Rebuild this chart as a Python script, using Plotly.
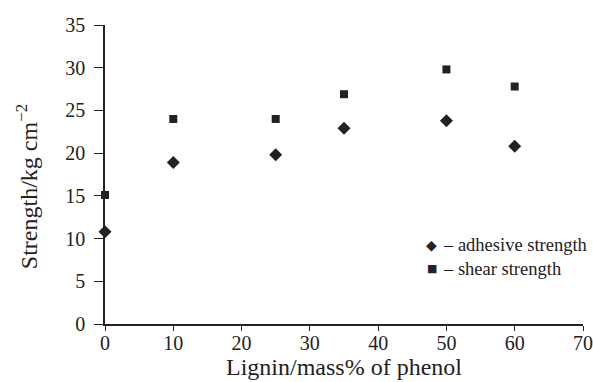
import plotly.graph_objects as go

lignin = [0, 10, 25, 35, 50, 60]
adhesive_strength = [10.8, 18.9, 19.8, 22.9, 23.8, 20.8]
shear_strength = [15.1, 24.0, 24.0, 26.9, 29.8, 27.8]

x_ticks = [0, 10, 20, 30, 40, 50, 60, 70]
y_ticks = [0, 5, 10, 15, 20, 25, 30, 35]

legend_labels = ["– adhesive strength", "– shear strength"]
legend_symbols = ["◆", "■"]

font_family = "Liberation Serif, Times New Roman, serif"
ink = "#222222"

fig = go.Figure()
fig.add_trace(go.Scatter(
    x=lignin, y=adhesive_strength, mode="markers",
    name=legend_labels[0],
    marker=dict(symbol="diamond", size=10, color=ink),
    cliponaxis=False, showlegend=False,
))
fig.add_trace(go.Scatter(
    x=lignin, y=shear_strength, mode="markers",
    name=legend_labels[1],
    marker=dict(symbol="square", size=8, color=ink),
    cliponaxis=False, showlegend=False,
))

axis_common = dict(
    showgrid=False, zeroline=False, showline=True, linecolor=ink, linewidth=1.5,
    ticks="outside", tickwidth=1, tickcolor=ink, automargin=False,
    tickfont=dict(family=font_family, size=20, color=ink),
)

annotations = [dict(
    text="Strength/kg cm<sup>−2</sup>", textangle=-90,
    xref="paper", yref="paper", x=-0.163, y=0.458,
    xanchor="center", yanchor="middle", showarrow=False,
    font=dict(family=font_family, size=24, color=ink),
)]
legend_rows_y = [0.264, 0.184]
symbol_sizes = [14, 11]
for label, sym, yy, ss in zip(legend_labels, legend_symbols, legend_rows_y, symbol_sizes):
    annotations.append(dict(
        text=sym, xref="paper", yref="paper", x=0.684, y=yy,
        xanchor="center", yanchor="middle", showarrow=False,
        font=dict(family="DejaVu Sans", size=ss, color=ink),
    ))
    annotations.append(dict(
        text=label, xref="paper", yref="paper", x=0.703, y=yy,
        xanchor="left", yanchor="middle", showarrow=False,
        font=dict(family=font_family, size=18.5, color=ink),
    ))

fig.update_layout(
    width=593, height=382,
    margin=dict(l=105, r=10, t=25, b=58),
    paper_bgcolor="white", plot_bgcolor="white",
    font=dict(family=font_family, color=ink),
    xaxis=dict(range=[0, 70], tickvals=x_ticks, ticklen=5, ticklabelstandoff=-5,
               title=dict(text="Lignin/mass% of phenol", font=dict(size=24), standoff=0),
               **axis_common),
    yaxis=dict(range=[0, 35], tickvals=y_ticks, ticklen=9, ticklabelstandoff=5,
               **axis_common),
    showlegend=False,
    annotations=annotations,
)

fig.write_html("out.html", config={"displayModeBar": False},
               post_script="document.body.style.margin='0';document.body.style.overflow='hidden';")
